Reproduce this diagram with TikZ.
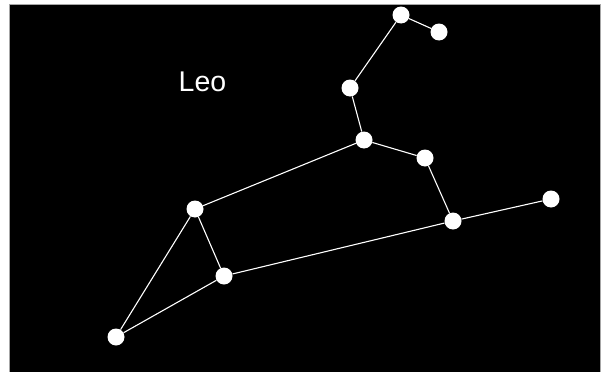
\documentclass[tikz,border=0pt]{standalone}
\usepackage{fontspec}
\setmainfont{Liberation Sans}
\begin{document}
\begin{tikzpicture}[x=1pt,y=-1pt,
  star/.style={circle,fill=white,draw=none,minimum size=17pt,inner sep=0pt},
  link/.style={draw=white,line width=1.1pt}]
\useasboundingbox (0,0) rectangle (608,372);
\fill[white] (0,0) rectangle (608,372);
\draw[fill=black,draw=gray!70,line width=0.8pt] (9.5,4.5) rectangle (600.5,380);
\node[text=white,font=\fontsize{28.5}{34}\selectfont] (title) at (202.5,82) {Leo};
\node[star] (s1) at (401,15) {};
\node[star] (s2) at (439,32) {};
\node[star] (s3) at (350,88) {};
\node[star] (s4) at (364,140) {};
\node[star] (s5) at (425,158) {};
\node[star] (s6) at (453,221) {};
\node[star] (s7) at (551,199) {};
\node[star] (s8) at (195,209) {};
\node[star] (s9) at (224,276) {};
\node[star] (s10) at (116,337) {};
\draw[link] (s1) -- (s2);
\draw[link] (s1) -- (s3);
\draw[link] (s3) -- (s4);
\draw[link] (s4) -- (s5);
\draw[link] (s5) -- (s6);
\draw[link] (s6) -- (s7);
\draw[link] (s4) -- (s8);
\draw[link] (s8) -- (s9);
\draw[link] (s8) -- (s10);
\draw[link] (s10) -- (s9);
\draw[link] (s9) -- (s6);
\end{tikzpicture}
\end{document}
